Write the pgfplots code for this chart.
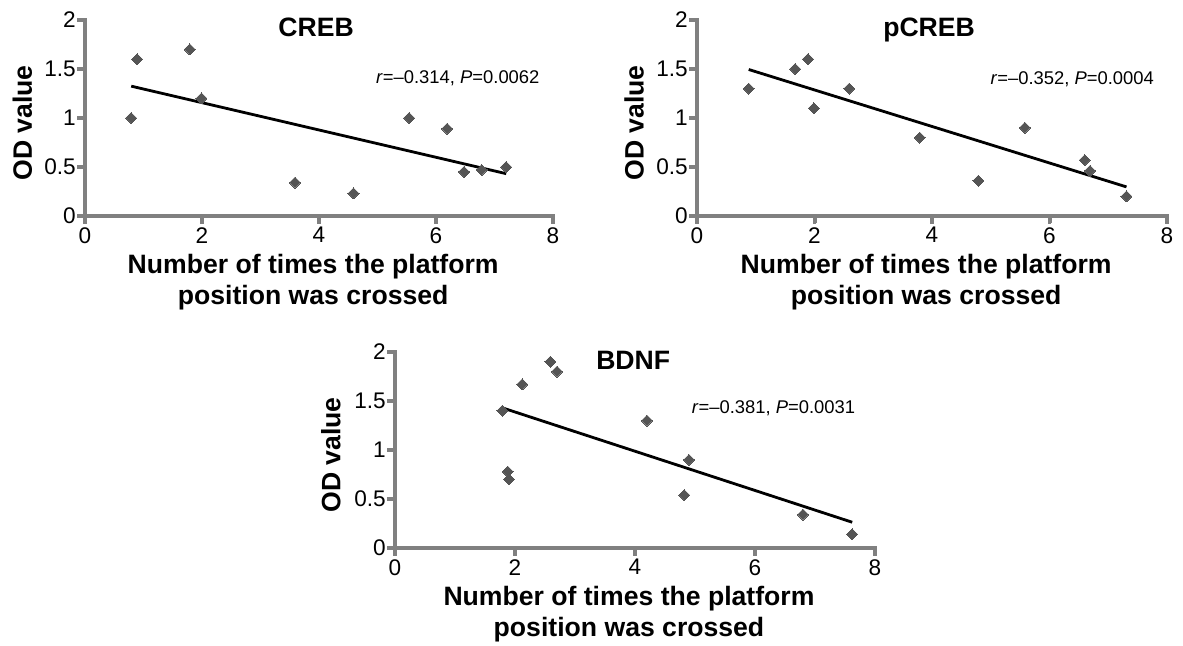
\documentclass[border=0pt]{standalone}
\usepackage{fontspec}
\setmainfont{Liberation Sans}
\usepackage{pgfplots}
\pgfplotsset{compat=1.18}
\definecolor{axgray}{RGB}{128,128,128}
\definecolor{mkgray}{RGB}{85,85,85}
\pgfplotsset{
 panel/.style={
  scale only axis, width=234pt, height=98pt,
  xmin=0,xmax=8,ymin=0,ymax=2,
  xtick={0,2,4,6,8}, ytick={0,0.5,1,1.5,2},
  axis lines=left,
  axis line style={-, line width=2.4pt, draw=axgray},
  major tick style={line width=2pt, draw=axgray},
  tick align=outside, major tick length=3.6pt,
  tick label style={font=\fontsize{11.3}{12}\selectfont, text=black},
  yticklabel style={xshift=2.5pt},
  xticklabel style={yshift=1.5pt},
  /pgf/number format/assume math mode=true,
  clip=false,
 },
 pts/.style={only marks, mark=square*, mark size=1.95pt, color=mkgray, mark options={rotate=45, line width=0pt}},
 fit/.style={black, line width=1.4pt, no marks},
}
\newcommand{\lab}{\bfseries\fontsize{13.3}{15}\selectfont}
\newcommand{\ann}{\fontsize{9.2}{11}\selectfont}
\newcommand{\axframe}{%
  \pgfplotsinvokeforeach{0,2,4,6,8}{\draw[axgray,line width=1.9pt] (axis cs:##1,0) -- ++(0pt,-3.8pt);}
  \pgfplotsinvokeforeach{0,0.5,1,1.5,2}{\draw[axgray,line width=1.9pt] (axis cs:0,##1) -- ++(-3.8pt,0pt);}
  \draw[axgray, line width=2.3pt, line cap=rect] (axis cs:0,2) -- (axis cs:0,0) -- (axis cs:8,0);
}
\begin{document}
\begin{tikzpicture}
\useasboundingbox (0,0) rectangle (591.5pt,322.5pt);
% CREB
\begin{axis}[panel, at={(42.5pt,214.5pt)}, anchor=south west]
\addplot[pts] coordinates {(0.79,1.00) (0.89,1.60) (1.79,1.70) (1.99,1.20) (3.59,0.34) (4.59,0.23) (5.54,1.00) (6.19,0.89) (6.48,0.45) (6.78,0.47) (7.20,0.50)};
\addplot[fit] coordinates {(0.79,1.325) (7.20,0.432)};
\axframe
\node[anchor=base, font=\lab] at (axis cs:3.95,1.83) {CREB};
\node[anchor=base west, font=\ann, inner sep=0pt] at (axis cs:4.97,1.35) {\textit{r}=–0.314, \textit{P}=0.0062};
\node[anchor=base, font=\lab, inner sep=0pt] at (axis cs:3.9,-0.59) {Number of times the platform};
\node[anchor=base, font=\lab, inner sep=0pt] at (axis cs:3.9,-0.9) {position was crossed};
\node[rotate=90, anchor=center, font=\lab] at (axis cs:-1.07,0.95) {OD value};
\end{axis}
% pCREB
\begin{axis}[panel, width=235pt, at={(348.5pt,214.5pt)}, anchor=south west]
\addplot[pts] coordinates {(0.88,1.30) (1.67,1.50) (1.89,1.60) (1.99,1.10) (2.59,1.30) (3.79,0.80) (4.79,0.36) (5.58,0.90) (6.60,0.57) (6.69,0.46) (7.31,0.20)};
\addplot[fit] coordinates {(0.88,1.495) (7.31,0.297)};
\axframe
\node[anchor=base, font=\lab] at (axis cs:3.95,1.83) {pCREB};
\node[anchor=base west, font=\ann, inner sep=0pt] at (axis cs:4.99,1.34) {\textit{r}=–0.352, \textit{P}=0.0004};
\node[anchor=base, font=\lab, inner sep=0pt] at (axis cs:3.9,-0.59) {Number of times the platform};
\node[anchor=base, font=\lab, inner sep=0pt] at (axis cs:3.9,-0.9) {position was crossed};
\node[rotate=90, anchor=center, font=\lab] at (axis cs:-1.07,0.95) {OD value};
\end{axis}
% BDNF
\begin{axis}[panel, width=240pt, at={(197.5pt,48.5pt)}, anchor=south west]
\addplot[pts] coordinates {(1.79,1.40) (1.88,0.78) (1.90,0.70) (2.12,1.67) (2.59,1.90) (2.70,1.80) (4.20,1.30) (4.90,0.90) (4.82,0.54) (6.80,0.34) (7.62,0.14)};
\addplot[fit] coordinates {(1.79,1.43) (7.62,0.263)};
\axframe
\node[anchor=base, font=\lab] at (axis cs:3.97,1.82) {BDNF};
\node[anchor=base west, font=\ann, inner sep=0pt] at (axis cs:4.94,1.37) {\textit{r}=–0.381, \textit{P}=0.0031};
\node[anchor=base, font=\lab, inner sep=0pt] at (axis cs:3.9,-0.59) {Number of times the platform};
\node[anchor=base, font=\lab, inner sep=0pt] at (axis cs:3.9,-0.9) {position was crossed};
\node[rotate=90, anchor=center, font=\lab] at (axis cs:-1.07,0.95) {OD value};
\end{axis}
\end{tikzpicture}
\end{document}
